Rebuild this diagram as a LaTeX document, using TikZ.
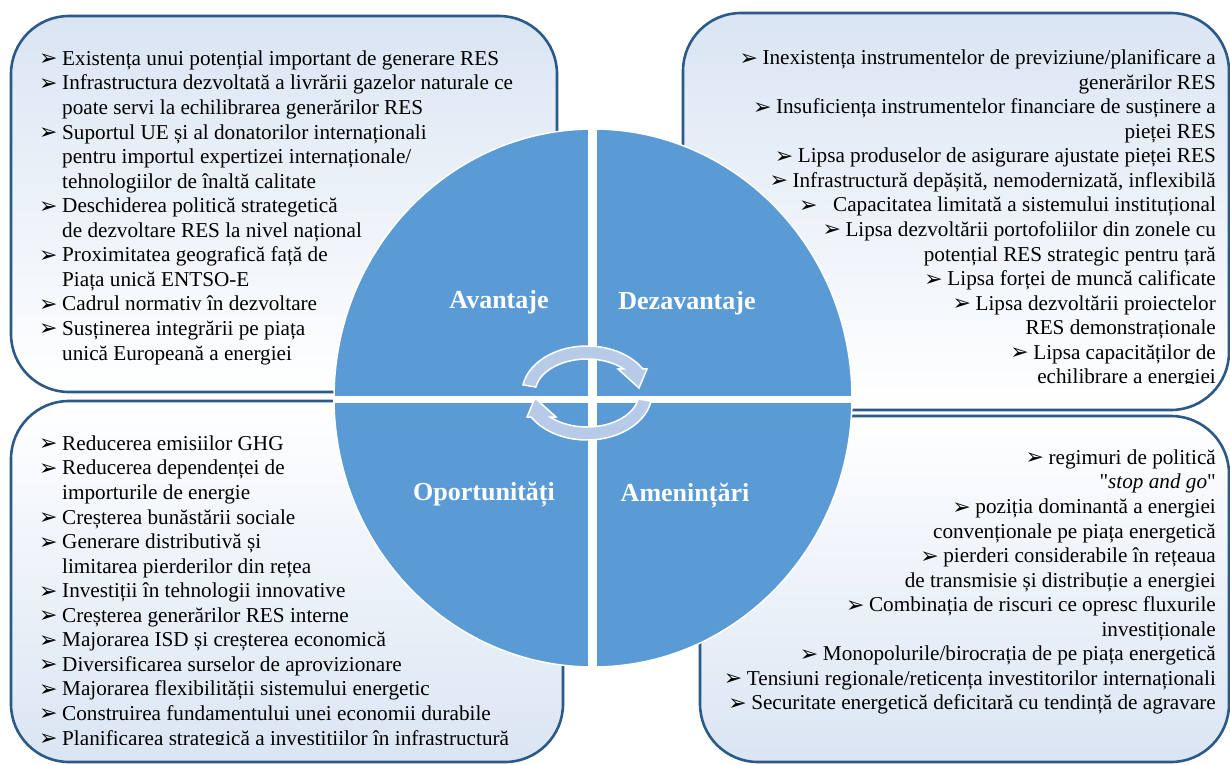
\documentclass[tikz,border=0pt]{standalone}
\usepackage{fontspec}
\setmainfont{Liberation Serif}
\newfontfamily\symfont{DejaVu Sans}
\newfontfamily\quotefont[Ligatures=TeXOff]{Liberation Serif}
\usepackage{xcolor}
\definecolor{boxline}{HTML}{2C5A88}
\definecolor{boxfill}{HTML}{DAE5F3}
\definecolor{quadfill}{HTML}{5B9BD5}
\definecolor{cyclefill}{HTML}{B7CBE8}
\usepackage{tikz}
\newcommand{\bul}{\makebox[23pt][l]{\symfont\fontsize{22pt}{22pt}\selectfont\raisebox{-0.5pt}{➢}}}
\newcommand{\cont}{\hspace*{23pt}}
\newcommand{\dq}{{\quotefont"}}

\begin{document}
\begin{tikzpicture}[x=1pt,y=1pt,
  panel/.style={draw=boxline,line width=2.6pt,rounded corners=58pt},
  paneltop/.style={panel,top color=boxfill,bottom color=white},
  panelbot/.style={panel,top color=white,bottom color=boxfill},
  items/.style={inner sep=0pt,font=\fontsize{21.2pt}{24.55pt}\selectfont,text=black},
  quad/.style={fill=quadfill,draw=white,line width=1.5pt},
  lbl/.style={text=white,font=\fontsize{26pt}{28pt}\selectfont\bfseries},
  cyc/.style={fill=cyclefill,draw=white,line width=1.5pt}]
\useasboundingbox (0,0) rectangle (1230,764);
\fill[white] (0,0) rectangle (1230,764);
\draw[paneltop] (11,372) rectangle (557,748);
\draw[paneltop] (683,354) rectangle (1229,751);
\draw[panelbot] (11,2) rectangle (563,363);
\draw[panelbot] (700,2) rectangle (1229,348);

\node[items,anchor=north west,align=left] (advtext) at (39,713.5) {\bul Existența unui potențial important de generare RES\\
\bul Infrastructura dezvoltată a livrării gazelor naturale ce\\
\cont poate servi la echilibrarea generărilor RES\\
\bul Suportul UE și al donatorilor internaționali\\
\cont pentru importul expertizei internaționale/\\
\cont tehnologiilor de înaltă calitate\\
\bul Deschiderea politică strategetică\\
\cont de dezvoltare RES la nivel național\\
\bul Proximitatea geografică față de\\
\cont Piața unică ENTSO-E\\
\bul Cadrul normativ în dezvoltare\\
\bul Susținerea integrării pe piața\\
\cont unică Europeană a energiei};

\begin{scope}
\clip (683,381) rectangle (1229,751);
\node[items,anchor=north east,align=right] (distext) at (1216,714.5) {\bul Inexistența instrumentelor de previziune/planificare a\\
generărilor RES\\
\bul Insuficiența instrumentelor financiare de susținere a\\
pieței RES\\
\bul Lipsa produselor de asigurare ajustate pieței RES\\
\bul Infrastructură depășită, nemodernizată, inflexibilă\\
\bul\hspace{11pt}Capacitatea limitată a sistemului instituțional\\
\bul Lipsa dezvoltării portofoliilor din zonele cu\\
potențial RES strategic pentru țară\\
\bul Lipsa forței de muncă calificate\\
\bul Lipsa dezvoltării proiectelor\\
RES demonstraționale\\
\bul Lipsa capacităților de\\
echilibrare a energiei};
\end{scope}

\begin{scope}
\clip (11,20) rectangle (563,363);
\node[items,anchor=north west,align=left] (opptext) at (39,328.5) {\bul Reducerea emisiilor GHG\\
\bul Reducerea dependenței de\\
\cont importurile de energie\\
\bul Creșterea bunăstării sociale\\
\bul Generare distributivă și\\
\cont limitarea pierderilor din rețea\\
\bul Investiții în tehnologii innovative\\
\bul Creșterea generărilor RES interne\\
\bul Majorarea ISD și creșterea economică\\
\bul Diversificarea surselor de aprovizionare\\
\bul Majorarea flexibilității sistemului energetic\\
\bul Construirea fundamentului unei economii durabile\\
\bul Planificarea strategică a investitiilor în infrastructură};
\end{scope}

\node[items,anchor=north east,align=right] (thrtext) at (1216,314.5) {\bul regimuri de politică\\
\dq\textit{stop and go}\dq\\
\bul poziția dominantă a energiei\\
convenționale pe piața energetică\\
\bul pierderi considerabile în rețeaua\\
de transmisie și distribuție a energiei\\
\bul Combinația de riscuri ce opresc fluxurile\\
investiționale\\
\bul Monopolurile/birocrația de pe piața energetică\\
\bul Tensiuni regionale/reticența investitorilor internaționali\\
\bul Securitate energetică deficitară cu tendință de agravare};

\draw[quad] (593,366) ellipse [x radius=259pt,y radius=269pt];
\begin{scope}
\clip (593,366) ellipse [x radius=260pt,y radius=270pt];
\fill[white] (588,0) rectangle (597,764);
\fill[white] (0,361) rectangle (1230,368);
\end{scope}

\node[lbl] (adv) at (499,462) {Avantaje};
\node[lbl] (dis) at (687,461) {Dezavantaje};
\node[lbl] (opp) at (484,269) {Oportunități};
\node[lbl] (thr) at (685,268) {Amenințări};

\begin{scope}[shift={(587,371)}]
\draw[cyc] (170:65pt and 47pt) arc[start angle=170,end angle=31,x radius=65pt,y radius=47pt] -- (60,24) -- (52,5) -- (31,24) -- (45:52pt and 34pt) arc[start angle=45,end angle=170,x radius=52pt,y radius=34pt] -- cycle;
\draw[cyc,rotate=180] (170:65pt and 47pt) arc[start angle=170,end angle=31,x radius=65pt,y radius=47pt] -- (60,24) -- (52,5) -- (31,24) -- (45:52pt and 34pt) arc[start angle=45,end angle=170,x radius=52pt,y radius=34pt] -- cycle;
\end{scope}
\end{tikzpicture}
\end{document}
